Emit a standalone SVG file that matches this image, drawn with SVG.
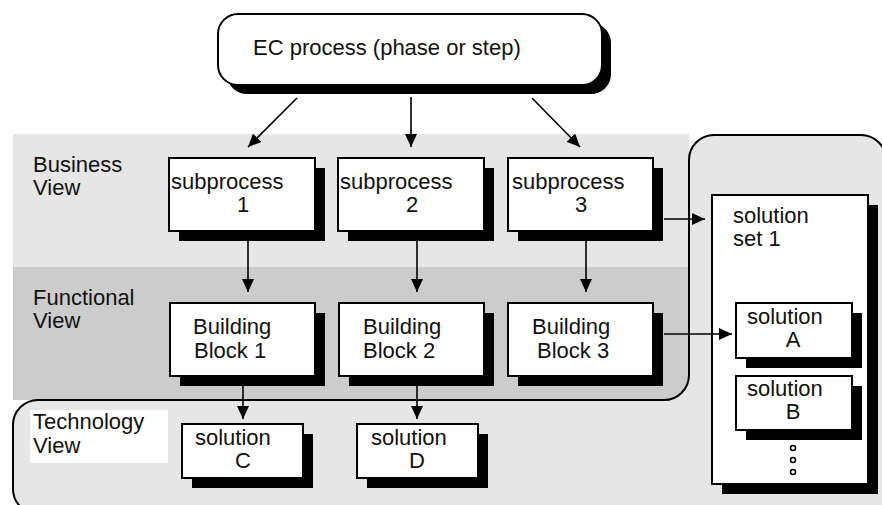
<svg xmlns="http://www.w3.org/2000/svg" width="882" height="505" viewBox="0 0 882 505">
<defs>
<marker id="ah" markerUnits="userSpaceOnUse" markerWidth="14" markerHeight="12" refX="13" refY="6" orient="auto"><path d="M0,0 L13,6 L0,12 Z" fill="#000"/></marker>
<style>
text{font-family:"Liberation Sans",Arial,sans-serif;font-size:22px;fill:#111}
.box{fill:#fff;stroke:#000;stroke-width:2}
.sh{fill:#000}
.c line{stroke:#000;stroke-width:1.6;marker-end:url(#ah)}
.m{text-anchor:middle}
</style>
</defs>
<rect width="882" height="505" fill="#fff"/>
<g id="bands">
<rect x="13" y="134" width="676" height="133" fill="#e6e6e6"/>
<rect x="13" y="267" width="676" height="133" fill="#cccccc"/>
<path d="M13,425 A25,25 0 0 1 38,400 L664,400 A25,25 0 0 0 689,375 L689,160 A25,25 0 0 1 714,135 L861,135 A25,25 0 0 1 886,160 L886,514 L38,514 A25,25 0 0 1 13,489 Z" fill="#e6e6e6" stroke="#000" stroke-width="2"/>
<text x="33" y="172">Business</text><text x="33" y="195">View</text>
<text x="33" y="305">Functional</text><text x="33" y="328">View</text>
<rect x="30" y="410" width="138" height="53" fill="#fff"/>
<text x="33" y="429">Technology</text><text x="33" y="453">View</text>
</g>
<g id="ec">
<rect class="sh" x="227" y="23" width="384" height="71" rx="20"/>
<rect class="box" x="218" y="14" width="384" height="71" rx="20"/>
<text x="253" y="55">EC process (phase or step)</text>
</g>
<g id="sp1"><rect class="sh" x="179" y="168" width="146" height="73"/><rect class="box" x="169" y="158" width="146" height="73"/><text x="171" y="189">subprocess</text><text class="m" x="243" y="212">1</text></g>
<g id="sp2"><rect class="sh" x="348" y="168" width="146" height="73"/><rect class="box" x="338" y="158" width="146" height="73"/><text x="340" y="189">subprocess</text><text class="m" x="412" y="212">2</text></g>
<g id="sp3"><rect class="sh" x="518" y="168" width="145" height="73"/><rect class="box" x="508" y="158" width="145" height="73"/><text x="512" y="189">subprocess</text><text class="m" x="581" y="212">3</text></g>
<g id="bb1"><rect class="sh" x="180" y="313" width="145" height="73"/><rect class="box" x="170" y="303" width="145" height="73"/><text x="193" y="334">Building</text><text x="194" y="358">Block 1</text></g>
<g id="bb2"><rect class="sh" x="349" y="313" width="145" height="73"/><rect class="box" x="339" y="303" width="145" height="73"/><text x="363" y="334">Building</text><text x="363" y="358">Block 2</text></g>
<g id="bb3"><rect class="sh" x="518" y="313" width="145" height="73"/><rect class="box" x="508" y="303" width="145" height="73"/><text x="532" y="334">Building</text><text x="537" y="358">Block 3</text></g>
<g id="solC"><rect class="sh" x="192" y="434" width="121" height="54"/><rect class="box" x="182" y="424" width="121" height="54"/><text x="195" y="445">solution</text><text class="m" x="243" y="468">C</text></g>
<g id="solD"><rect class="sh" x="367" y="434" width="121" height="54"/><rect class="box" x="357" y="424" width="121" height="54"/><text x="371" y="445">solution</text><text class="m" x="417" y="468">D</text></g>
<g id="set1">
<rect class="sh" x="722" y="205" width="156" height="289"/>
<rect class="box" x="712" y="195" width="156" height="289"/>
<text x="733" y="223">solution</text><text x="733" y="246">set 1</text>
<g fill="#fff" stroke="#000" stroke-width="1.5"><circle cx="793" cy="448" r="2.5"/><circle cx="793" cy="460" r="2.5"/><circle cx="793" cy="472" r="2.5"/></g>
</g>
<g id="solA"><rect class="sh" x="746" y="313" width="116" height="55"/><rect class="box" x="736" y="303" width="116" height="55"/><text x="747" y="324">solution</text><text class="m" x="793" y="347">A</text></g>
<g id="solB"><rect class="sh" x="746" y="386" width="116" height="54"/><rect class="box" x="736" y="376" width="116" height="54"/><text x="747" y="396">solution</text><text class="m" x="793" y="419">B</text></g>
<g id="connectors" class="c">
<line x1="297" y1="98" x2="248" y2="147"/>
<line x1="411" y1="97" x2="411" y2="147"/>
<line x1="532" y1="98" x2="580" y2="147"/>
<line x1="248" y1="241" x2="248" y2="292"/>
<line x1="417" y1="241" x2="417" y2="292"/>
<line x1="586" y1="241" x2="586" y2="292"/>
<line x1="243" y1="386" x2="243" y2="419"/>
<line x1="417" y1="386" x2="417" y2="419"/>
<line x1="664" y1="219" x2="705" y2="219"/>
<line x1="664" y1="334" x2="732" y2="334"/>
</g>
</svg>
